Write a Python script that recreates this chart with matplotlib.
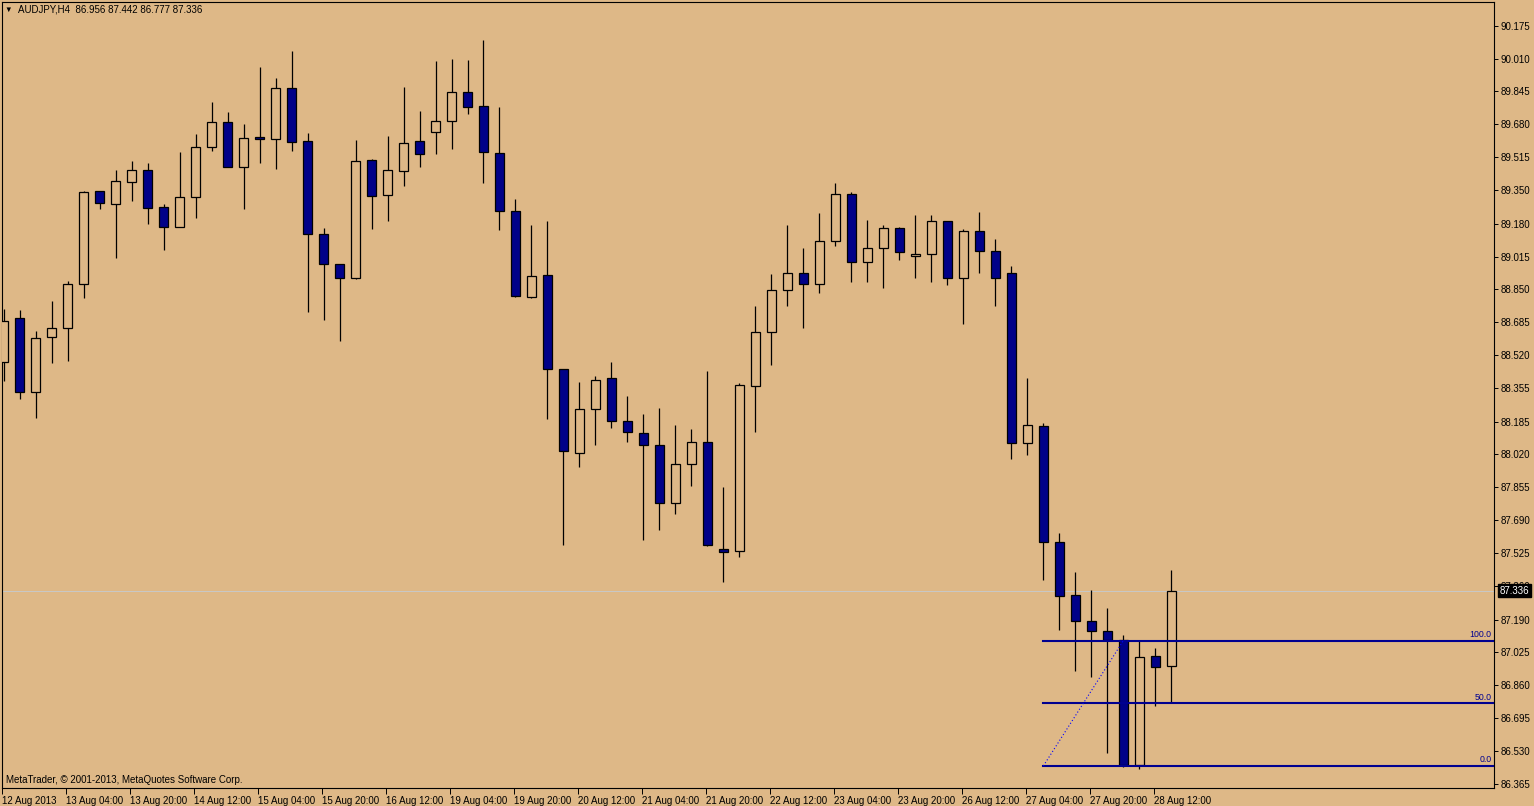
import matplotlib.pyplot as plt
from matplotlib.patches import Rectangle
from matplotlib.transforms import blended_transform_factory

plt.rcParams['font.family'] = ['Liberation Sans', 'DejaVu Sans']

symbol = 'AUDJPY,H4'

# H4 bars, oldest first
opens = [88.484, 88.705, 88.333, 88.609, 88.654, 88.876, 89.343, 89.278, 89.388, 89.448,
         89.262, 89.165, 89.313, 89.564, 89.690, 89.463, 89.614, 89.604, 89.860, 89.594,
         89.127, 88.976, 88.906, 89.499, 89.323, 89.443, 89.594, 89.639, 89.695, 89.840,
         89.770, 89.534, 89.242, 88.810, 88.921, 88.448, 88.026, 88.247, 88.403, 88.187,
         88.127, 88.066, 87.775, 87.971, 88.082, 87.544, 87.534, 88.363, 88.634, 88.845,
         88.931, 88.876, 89.092, 89.328, 88.986, 89.056, 89.157, 89.016, 89.026, 89.192,
         88.906, 89.142, 89.041, 88.931, 88.077, 88.162, 87.579, 87.313, 87.182, 87.132,
         87.087, 86.458, 87.006, 86.956]
highs = [88.751, 88.745, 88.641, 88.792, 88.891, 89.344, 89.344, 89.450, 89.495, 89.485,
         89.279, 89.540, 89.631, 89.792, 89.741, 89.681, 89.967, 89.912, 90.048, 89.636,
         89.158, 88.978, 89.601, 89.504, 89.621, 89.867, 89.746, 89.998, 90.008, 90.003,
         90.103, 89.766, 89.304, 89.174, 89.194, 88.450, 88.383, 88.413, 88.484, 88.313,
         88.222, 88.252, 88.167, 88.147, 88.438, 87.855, 88.378, 88.766, 88.927, 89.174,
         89.058, 89.234, 89.383, 89.338, 89.199, 89.174, 89.163, 89.224, 89.224, 89.194,
         89.152, 89.239, 89.103, 88.967, 88.405, 88.177, 87.624, 87.428, 87.338, 87.247,
         87.112, 87.082, 87.046, 87.442]
lows = [88.391, 88.301, 88.205, 88.482, 88.492, 88.808, 89.255, 89.009, 89.296, 89.180,
        89.049, 89.163, 89.210, 89.547, 89.464, 89.255, 89.487, 89.456, 89.547, 88.738,
        88.698, 88.592, 88.904, 89.155, 89.195, 89.371, 89.466, 89.532, 89.557, 89.733,
        89.386, 89.150, 88.813, 88.805, 88.200, 87.567, 87.959, 88.069, 88.155, 88.085,
        87.592, 87.642, 87.723, 87.860, 87.562, 87.378, 87.504, 88.132, 88.471, 88.768,
        88.657, 88.833, 89.069, 88.889, 88.889, 88.858, 88.999, 88.909, 88.889, 88.874,
        88.678, 88.934, 88.768, 87.999, 88.019, 87.391, 87.140, 86.934, 86.904, 86.519,
        86.448, 86.438, 86.755, 86.777]
closes = [88.690, 88.333, 88.604, 88.654, 88.876, 89.339, 89.283, 89.393, 89.448, 89.260,
          89.165, 89.313, 89.564, 89.690, 89.466, 89.609, 89.604, 89.860, 89.592, 89.127,
          88.976, 88.906, 89.494, 89.318, 89.448, 89.584, 89.529, 89.695, 89.840, 89.765,
          89.539, 89.242, 88.815, 88.916, 88.448, 88.036, 88.247, 88.393, 88.187, 88.132,
          88.066, 87.775, 87.971, 88.082, 87.564, 87.529, 88.368, 88.634, 88.845, 88.931,
          88.876, 89.092, 89.328, 88.986, 89.056, 89.157, 89.036, 89.026, 89.192, 88.906,
          89.142, 89.041, 88.906, 88.077, 88.167, 87.579, 87.308, 87.182, 87.132, 87.087,
          86.458, 87.001, 86.951, 87.336]

date_labels = ['12 Aug 2013', '13 Aug 04:00', '13 Aug 20:00', '14 Aug 12:00', '15 Aug 04:00',
               '15 Aug 20:00', '16 Aug 12:00', '19 Aug 04:00', '19 Aug 20:00', '20 Aug 12:00',
               '21 Aug 04:00', '21 Aug 20:00', '22 Aug 12:00', '23 Aug 04:00', '23 Aug 20:00',
               '26 Aug 12:00', '27 Aug 04:00', '27 Aug 20:00', '28 Aug 12:00']
price_labels = ['90.175', '90.010', '89.845', '89.680', '89.515', '89.350', '89.180', '89.015',
                '88.850', '88.685', '88.520', '88.355', '88.185', '88.020', '87.855', '87.690',
                '87.525', '87.360', '87.190', '87.025', '86.860', '86.695', '86.530', '86.365']

# Fibonacci retracement drawn on the chart
fib_levels = [0.0, 50.0, 100.0]
fib_low, fib_high = 86.455, 87.085
fib_start, fib_end = 65, 70

bg = '#DEB887'
bear = '#000088'
fib_col = '#000090'
W, H = 1534, 806

fig = plt.figure(figsize=(W / 100, H / 100), dpi=100, facecolor=bg)
ax = fig.add_axes([2 / W, 18 / H, 1492 / W, 786 / H])
ax.set_facecolor(bg)
ax.set_xlim(-0.08, 93.17)
ax.set_ylim(86.344, 90.294)

last = closes[-1]
ax.axhline(last, color='#c8c8c8', lw=0.7, zorder=1)

for i, (o, h, l, c) in enumerate(zip(opens, highs, lows, closes)):
    ax.vlines(i, l, h, color='black', lw=0.9, zorder=2)
    fc = bear if c < o else bg
    ax.add_patch(Rectangle((i - 0.28, min(o, c)), 0.56, max(abs(c - o), 0.004),
                           facecolor=fc, edgecolor='black', lw=0.9, zorder=3))

# fibo levels
xr = ax.get_xlim()[1]
for lev in fib_levels:
    p = fib_low + (fib_high - fib_low) * lev / 100
    ax.plot([fib_start, xr], [p, p], color=fib_col, lw=1.5, zorder=4)
    ax.text(xr - 0.15, p + 0.008, f'{lev:.1f}', ha='right', va='bottom',
            color=fib_col, fontsize=6.3, zorder=5)
ax.plot([fib_start, fib_end], [fib_low, fib_high], color='#0000ff', lw=0.8,
        ls=(0, (1, 2)), zorder=4)

# axes styling
for s in ax.spines.values():
    s.set_color('black')
    s.set_linewidth(0.8)
ax.yaxis.tick_right()
ax.set_yticks([float(s) for s in price_labels])
ax.set_yticklabels(price_labels)
ax.tick_params(axis='y', direction='out', length=3, width=0.7, pad=2, labelsize=7)
ax.set_xticks([i * 4 - 0.1 for i in range(len(date_labels))])
ax.set_xticklabels(date_labels)
ax.tick_params(axis='x', direction='out', length=4, width=0.7, pad=1.5, labelsize=7)
plt.setp(ax.get_xticklabels(), ha='left')

# current price box
tr = blended_transform_factory(ax.transAxes, ax.transData)
ax.text(1.0037, last, f'{last:.3f}', transform=tr, ha='left', va='center', color='white',
        fontsize=7, clip_on=False, zorder=6,
        bbox=dict(facecolor='black', edgecolor='black', pad=1.2))

fig.text(4 / W, 1 - 10 / H, '▼', fontsize=5.5, va='center', ha='left')
fig.text(18 / W, 1 - 10 / H,
         f'{symbol}  {opens[-1]:.3f} {highs[-1]:.3f} {lows[-1]:.3f} {closes[-1]:.3f}',
         fontsize=7, va='center', ha='left')
fig.text(6 / W, 1 - 780 / H, 'MetaTrader, © 2001-2013, MetaQuotes Software Corp.',
         fontsize=7, va='center', ha='left')

fig.savefig('out.png', dpi=100, facecolor=bg)
